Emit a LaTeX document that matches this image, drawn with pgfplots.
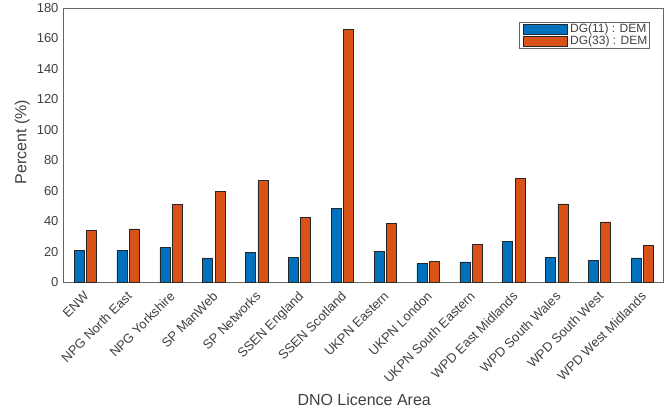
\documentclass[border=0pt]{standalone}
\usepackage{pgfplots}
\pgfplotsset{compat=1.18}
\usepackage{fontspec}
\setmainfont{Liberation Sans}
\definecolor{mblue}{RGB}{0,114,189}
\definecolor{morange}{RGB}{217,83,25}
\definecolor{txt}{RGB}{64,64,64}
\begin{document}
\begin{tikzpicture}
\begin{axis}[
  scale only axis, width=600pt, height=274pt,
  ybar=2.4pt, bar width=10pt,
  xmin=-0.52, xmax=13.48, ymin=0, ymax=180,
  ytick={0,20,...,180},
  xtick={0,...,13},
  xticklabels={ENW,NPG North East,NPG Yorkshire,SP ManWeb,SP Networks,SSEN England,SSEN Scotland,UKPN Eastern,UKPN London,UKPN South Eastern,WPD East Midlands,WPD South Wales,WPD South West,WPD West Midlands},
  major tick length=0pt,
  axis line style={black!60, line width=0.6pt},
  /pgf/number format/assume math mode=true,
  tick label style={font=\fontsize{13}{13}\selectfont, text=txt},
  xticklabel style={yshift=-7pt, xshift=-2pt, rotate=45, anchor=north east, inner sep=1pt},
  yticklabel style={xshift=-1pt},
  xlabel={DNO Licence Area}, ylabel={Percent (\%)},
  label style={font=\fontsize{16}{16}\selectfont, text=txt},
  xlabel style={at={(axis description cs:0.502,-0.431)}, anchor=center},
  ylabel style={at={(axis description cs:-0.068,0.51)}, anchor=center},
  legend style={at={(0.977,0.949)}, anchor=north east, draw=black!60, line width=0.6pt,
    font=\fontsize{12}{12}\selectfont, text=txt,
    nodes={inner sep=0.6pt, text height=8.5pt, text depth=2pt},
    row sep=0pt, inner xsep=1pt, inner ysep=1.5pt},
  legend image code/.code={\path (0pt,0pt) (49pt,0pt); \draw[#1] (3pt,-5pt) rectangle (47pt,5pt);},
  legend cell align=left,
]
\addplot[fill=mblue, draw=black!85, line width=0.6pt] coordinates {
(0,20.8) (1,20.6) (2,22.8) (3,15.8) (4,19.7) (5,16.0) (6,48.2) (7,20.0) (8,12.3) (9,13.2) (10,26.5) (11,16.0) (12,14.3) (13,15.8)};
\addplot[fill=morange, draw=black!85, line width=0.6pt] coordinates {
(0,34.0) (1,34.9) (2,50.9) (3,59.4) (4,66.7) (5,42.5) (6,166.0) (7,38.6) (8,13.6) (9,24.6) (10,68.0) (11,51.3) (12,39.5) (13,24.1)};
\legend{DG(11) : DEM, DG(33) : DEM}
\end{axis}
\pgfresetboundingbox
\path ([shift={(-63pt,-130pt)}]current axis.south west) rectangle ([shift={(9pt,8pt)}]current axis.north east);
\end{tikzpicture}
\end{document}
